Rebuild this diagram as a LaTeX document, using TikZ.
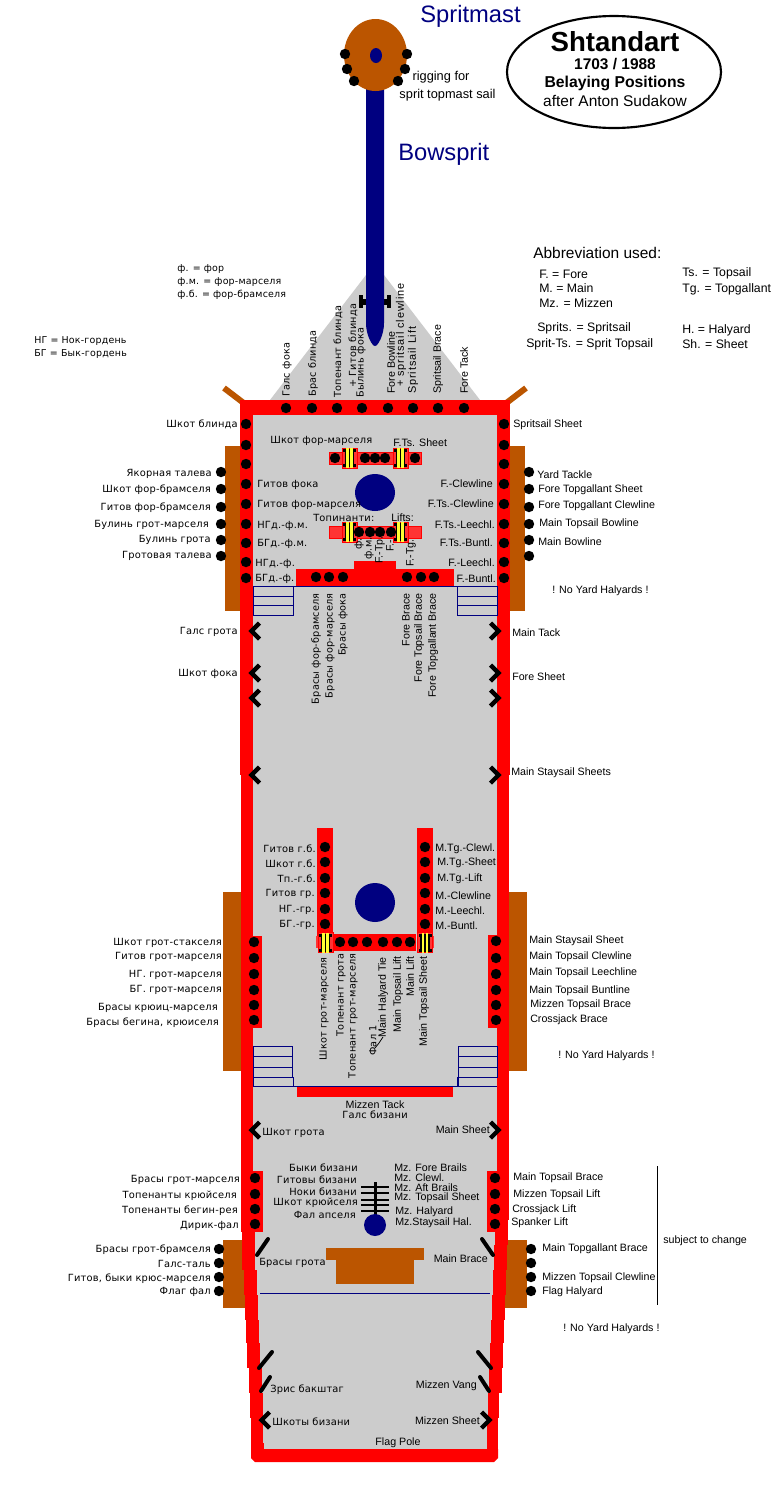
\documentclass[tikz,border=0pt]{standalone}
\usepackage{fontspec}
\setmainfont{Liberation Sans}
\newfontfamily\cyrf[LetterSpace=2]{DejaVu Sans}
\newfontfamily\latwide[LetterSpace=8]{Liberation Sans}
\definecolor{hullred}{HTML}{FF0000}
\definecolor{railred}{HTML}{FF3333}
\definecolor{deck}{HTML}{CCCCCC}
\definecolor{spar}{HTML}{000080}
\definecolor{timber}{HTML}{BB5500}
\definecolor{bittyel}{HTML}{FFFF33}
\tikzset{
  lat/.style={font=\fontsize{8}{9.6}\selectfont,inner sep=0pt},
  cyr/.style={font=\cyrf\fontsize{7.4}{9}\selectfont,inner sep=0pt},
  cyrsm/.style={font=\cyrf\fontsize{7.3}{9}\selectfont,inner sep=0pt},
  cyrab/.style={font=\cyrf\fontsize{7.1}{9}\selectfont,inner sep=0pt},
  abb/.style={font=\fontsize{9.2}{11}\selectfont,inner sep=0pt,anchor=west},
  spname/.style={font=\fontsize{17.8}{20}\selectfont,text=spar,inner sep=0pt},
  chev/.style={line width=3.2pt,miter limit=10},
  cleat/.style={line width=3pt,line cap=round},
  ladder/.style={draw=spar,line width=0.75pt},
  rail/.style={fill=railred,draw=hullred,line width=0.75pt},
  dot/.style={fill=black}
}
\newcommand{\bitts}[2]{%
  \fill[rail] (#1-7.5,#2-10) rectangle (#1+7.5,#2+10);
  \fill[black] (#1-6.5,#2-9) rectangle (#1+6.5,#2+9);
  \fill[railred] (#1-7,#2-6) rectangle (#1-4.8,#2+6);
  \fill[railred] (#1+4.8,#2-6) rectangle (#1+7,#2+6);
  \fill[bittyel] (#1-3.5,#2-10) rectangle (#1-1,#2+10);
  \fill[bittyel] (#1+0.8,#2-10) rectangle (#1+3.3,#2+10);
}
\newcommand{\chevL}[2]{\draw[chev] (#1+8,#2-8) -- (#1,#2) -- (#1+8,#2+8);}
\newcommand{\chevR}[2]{\draw[chev] (#1-8,#2-8) -- (#1,#2) -- (#1-8,#2+8);}
\begin{document}
\begin{tikzpicture}[x=0.75pt,y=-0.75pt]
\useasboundingbox (0,0) rectangle (782,1511);
\fill[white] (0,0) rectangle (782,1511);
% timber bands
\fill[timber] (225,446) rectangle (241,611);
\fill[timber] (509,446) rectangle (525,611);
\fill[timber] (223,892) rectangle (242,1071);
\fill[timber] (508,892) rectangle (527,1071);
\fill[timber] (223,1240) rectangle (246,1308);
\fill[timber] (504,1240) rectangle (527,1308);
\draw[timber,line width=4.5pt] (224,388) -- (245,404);
\draw[timber,line width=4.5pt] (526,388) -- (505,404);
% bow
\fill[deck] (270,400) -- (366,275) -- (384,275) -- (480,400) -- cycle;
% hull: deck, then the stepped planks
\fill[deck] (247,410) -- (503,410) -- (503,1220) -- (500,1320) -- (494,1449) -- (257,1449) -- (252,1320) -- (247,1220) -- cycle;
\fill[hullred] (240,400) rectangle (510,415);
\foreach \ya/\yb/\xa/\xb in {400/775/240/253,775/1220/241/253,1220/1270/242/255,1270/1295/244/257,1295/1320/245/258,1320/1343/246/259,1343/1368/247/260,1368/1393/249/262,1393/1418/250/263,1418/1443/251/263,1443/1458/251/264,
  400/775/497/510,775/1220/497/509,1220/1245/495/508,1245/1270/494/507,1270/1295/493/506,1295/1320/492/505,1320/1343/491/504,1343/1368/490/503,1368/1393/489/502,1393/1418/488/499,1418/1458/487/498}
  \fill[hullred] (\xa,\ya) rectangle (\xb,\yb);
\fill[hullred] (251,1449) -- (498,1449) -- (498,1458) -- (494,1462) -- (255,1462) -- (251,1458) -- cycle;
% bitts at bow and bowsprit
\fill[black] (359,295) rectangle (363,308);
\fill[black] (387,295) rectangle (391,308);
\fill[black] (359,299) rectangle (391,305);
\fill[spar] (366,85) -- (366,323) .. controls (366,335) and (372,346) .. (375,346) .. controls (378,346) and (384,335) .. (384,323) -- (384,85) -- cycle;
\fill[timber] (375.5,55) ellipse [x radius=31.5,y radius=36];
\fill[spar] (376,55.5) ellipse [x radius=6,y radius=7.5];
% fore rails
\fill[rail] (329,452) rectangle (421,464);
\fill[rail] (329,526) rectangle (421,538);
\bitts{349.5}{458}\bitts{400.5}{458}
\bitts{349.5}{532}\bitts{400.5}{532}
\fill[hullred] (296,569) rectangle (454,586);
\fill[hullred] (354,561) rectangle (396,569);
% ladders and deck lines
\foreach \xa/\xb in {253/293,457/497} {
  \draw[ladder] (\xa,586) rectangle (\xb,615);
  \draw[ladder] (\xa,596) -- (\xb,596);
  \draw[ladder] (\xa,605) -- (\xb,605);
}
\draw[ladder] (253,586.5) -- (497,586.5);
\foreach \xa/\xb/\xc in {253/292/293,458/497/457} {
  \draw[ladder] (\xa,1046) rectangle (\xb,1077);
  \draw[ladder] (\xa,1056) -- (\xb,1056);
  \draw[ladder] (\xa,1067) -- (\xb,1067);
  \draw[ladder] (\xa,1077) rectangle (\xc,1086);
}
\draw[ladder] (253,1086) -- (497,1086);
\draw[ladder] (260,1293) -- (490,1293);
% masts
\fill[spar] (375,492.5) ellipse [x radius=20,y radius=18.5];
\fill[spar] (375,902.5) ellipse [x radius=20,y radius=19.5];
% main rails
\fill[hullred] (317,828) rectangle (333,936);
\fill[hullred] (417,828) rectangle (433,936);
\fill[hullred] (333,934) rectangle (416,951);
\fill[railred] (316,936) rectangle (321,948);
\fill[railred] (429,936) rectangle (434,948);
\bitts{325.5}{942.5}\bitts{425}{942.5}
\fill[hullred] (241,936) rectangle (262,1028);
\fill[hullred] (488,935) rectangle (497,1028);
\fill[hullred] (297,1087) rectangle (453,1097);
\fill[hullred] (241,1171) rectangle (263,1232);
\fill[hullred] (487,1171) rectangle (500,1232);
% mizzen
\fill[timber] (326,1248) rectangle (424,1260);
\fill[timber] (336,1260) rectangle (414,1284);
\fill[black] (373.5,1182) rectangle (376.5,1216);
\foreach \y in {1187,1193,1200,1205,1211} \fill[black] (361,\y-1) rectangle (389,\y+1);
\fill[spar] (375,1225) ellipse [x radius=11,y radius=11];
% dots
\foreach \x/\y in {345/54,407/54,347/69,405/69,354/81,398/81,
  286/408,312/408,337/408,362/408,388/408,413/408,438/408,464/408,
  335/458,365/458,375/458,385/458,415/458,
  359/532,370/532,380/532,391/532,
  316/577,329/577,343/577,407/577,421/577,434/577,
  340/942,353/942,367/942,383/942,397/942,410/942,
  254/942,254/958,254/974,254/990,254/1005,254/1020,
  496/941,496/958,496/974,496/990,496/1005,496/1020,
  255/1178,255/1194,255/1209,255/1224,
  495/1178,495/1194,495/1209,495/1224,
  219/1249,219/1263,219/1277,219/1291,
  531/1249,531/1263,531/1277,531/1291}
  \fill[dot] (\x,\y) circle [radius=3.9pt];
\foreach \y in {424,445,464,484,504,524,543,562,578} {
  \fill[dot] (246,\y) circle [radius=3.9pt];
  \fill[dot] (504,\y) circle [radius=3.9pt];
}
\foreach \y in {472,489,507,524,540,556} {
  \fill[dot] (221,\y) circle [radius=3.9pt];
  \fill[dot] (529,\y) circle [radius=3.9pt];
}
\foreach \y in {847,862,878,893,909,924} {
  \fill[dot] (325,\y) circle [radius=3.9pt];
  \fill[dot] (425,\y) circle [radius=3.9pt];
}
% chevrons and cleats
\foreach \y in {631,673,698,775,1130} {\chevL{251.5}{\y}\chevR{498.5}{\y}}
\chevL{261.5}{1420}\chevR{489.5}{1420}
\draw[cleat] (257,1255) -- (268,1239);
\draw[cleat] (482,1239) -- (493,1255);
\draw[cleat] (259,1368) -- (272,1352);
\draw[cleat] (261,1391) -- (270,1377);
\draw[cleat] (478,1352) -- (491,1368);
\draw[cleat] (480,1377) -- (489,1391);
% thin lines
\draw[black,line width=0.75pt] (657,1166) -- (657,1305);
\draw[black,line width=0.6pt] (383,1037) -- (379,1043) -- (375,1048);
% title
\draw[line width=1.6pt] (614,72) ellipse [x radius=107,y radius=56];
\node[inner sep=0pt,font=\bfseries\fontsize{20.7}{22}\selectfont] (t1) at (615,42) {Shtandart};
\node[inner sep=0pt,font=\bfseries\fontsize{11.6}{13}\selectfont] (t2) at (615,64) {1703 / 1988};
\node[inner sep=0pt,font=\bfseries\fontsize{11.8}{13}\selectfont] (t3) at (615,83) {Belaying Positions};
\node[inner sep=0pt,font=\fontsize{11.6}{13}\selectfont] (t4) at (615,101) {after Anton Sudakow};
\node[spname] (spritmast) at (470.5,16) {Spritmast};
\node[spname,anchor=west] (bowsprit) at (398,154) {Bowsprit};
\node[inner sep=0pt,font=\fontsize{9.6}{11}\selectfont] (rig1) at (441,77) {rigging for};
\node[inner sep=0pt,font=\fontsize{9.6}{11}\selectfont] (rig2) at (447.5,95) {sprit topmast sail};
% abbreviations
\node[inner sep=0pt,anchor=west,font=\fontsize{11.6}{13}\selectfont] (abbh) at (533,253) {Abbreviation used:};
\foreach \x/\y/\t [count=\i] in {539/274/F. = Fore,539/288/M. = Main,539/303/Mz. = Mizzen,682/273/Ts. = Topsail,682/289/Tg. = Topgallant,537/328/Sprits. = Spritsail,526/344/Sprit-Ts. = Sprit Topsail,682/330/H. = Halyard,682/344/Sh. = Sheet}
  \node[abb] (abb\i) at (\x,\y) {\t};
\foreach \x/\y/\t [count=\i] in {177/269/ф. = фор,177/282/ф.м. = фор-марселя,177/295/ф.б. = фор-брамселя,34/341/НГ = Нок-гордень,34/354/БГ = Бык-гордень}
  \node[cyrab,anchor=west] (cabb\i) at (\x,\y) {\t};
% bow rotated labels (reading upward from the base)
\foreach \x/\y/\t [count=\i] in {287/397/Галс фока,313/397/Брас блинда,338/398/Топенант блинда,353/388/+ Гитов блинда,361/398/Былинь фока}
  \node[cyrsm,rotate=90,anchor=west] (bc\i) at (\x,\y) {\t};
\foreach \x/\y/\t [count=\i] in {391/394/Fore Bowline,438/394/Spritsail Brace,464/394/Fore Tack}
  \node[lat,rotate=90,anchor=west] (bl\i) at (\x,\y) {\t};
\node[inner sep=0pt,font=\latwide\fontsize{8.2}{10}\selectfont,rotate=90,anchor=west] (bl4) at (401,387) {+ spritsail clewline};
\node[inner sep=0pt,font=\latwide\fontsize{8.2}{10}\selectfont,rotate=90,anchor=west] (bl5) at (413,394) {Spritsail Lift};
% cyrillic, right aligned
\foreach \x/\y/\t [count=\i] in {238/424/Шкот блинда,212/473/Якорная талева,211/489/Шкот фор-брамселя,211/507/Гитов фор-брамселя,209/524/Булинь грот-марселя,211/539/Булинь грота,212/555/Гротовая талева,
  238/631/Галс грота,238/673/Шкот фока,
  316/848/Гитов г.б.,316/863/Шкот г.б.,316/878/Тп.-г.б.,315/893/Гитов гр.,315/909/НГ.-гр.,315/924/БГ.-гр.,
  222/942/Шкот грот-стакселя,222/956/Гитов грот-марселя,222/974/НГ. грот-марселя,222/989/БГ. грот-марселя,218/1007/Брасы крюиц-марселя,219/1022/{Брасы бегина, крюиселя},
  240/1179/Брасы грот-марселя,237/1195/Топенанты крюйселя,238/1210/Топенанты бегин-рея,239/1225/Дирик-фал,
  211/1249/Брасы грот-брамселя,211/1263/Галс-таль,211/1278/{Гитов, быки крюс-марселя},211/1291/Флаг фал,
  358/1167/Быки бизани,357/1179/Гитовы бизани,357/1191/Ноки бизани,358/1202/Шкот крюйселя,356/1214/Фал апселя}
  \node[cyr,anchor=east,yshift=-0.6pt] (cr\i) at (\x,\y) {\t};
% cyrillic, left aligned
\foreach \x/\y/\t [count=\i] in {270/440/Шкот фор-марселя,257/484/Гитов фока,257/504/Гитов фор-марселя,313/517/Топинанти:,257/525/НГд.-ф.м.,257/543/БГд.-ф.м.,255/563/НГд.-ф.,255/578/БГд.-ф.,262/1132/Шкот грота,259/1262/Брасы грота,270/1389/Зрис бакштаг,272/1421/Шкоты бизани}
  \node[cyr,anchor=west,yshift=-0.6pt] (cl\i) at (\x,\y) {\t};
% latin, right aligned
\foreach \x/\y/\t [count=\i] in {493/482/F.-Clewline,494/502/F.Ts.-Clewline,495/523/F.Ts.-Leechl.,493/541/F.Ts.-Buntl.,495/561/F.-Leechl.,496/577/F.-Buntl.,490/1128/Main Sheet,488/1257/Main Brace,477/1385/Mizzen Vang,480/1419/Mizzen Sheet}
  \node[lat,anchor=east,yshift=-0.9pt] (lr\i) at (\x,\y) {\t};
% latin, left aligned
\foreach \x/\y/\t [count=\i] in {393/441/F.Ts. Sheet,391/516/Lifts:,513/424/Spritsail Sheet,537/473/Yard Tackle,538/489/Fore Topgallant Sheet,538/505/Fore Topgallant Clewline,539/523/Main Topsail Bowline,538/540/Main Bowline,552/590/! No Yard Halyards !,512/631/Main Tack,512/675/Fore Sheet,511/772/Main Staysail Sheets,
  435/848/M.Tg.-Clewl.,437/862/M.Tg.-Sheet,437/878/M.Tg.-Lift,435/894/M.-Clewline,435/909/M.-Leechl.,435/924/M.-Buntl.,
  529/940/Main Staysail Sheet,529/956/Main Topsail Clewline,529/972/Main Topsail Leechline,529/990/Main Topsail Buntline,530/1004/Mizzen Topsail Brace,530/1019/Crossjack Brace,558/1055/! No Yard Halyards !,
  394/1166/Mz. Fore Brails,394/1176/Mz. Clewl.,394/1186/Mz. Aft Brails,394/1197/Mz. Topsail Sheet,395/1211/Mz. Halyard,395/1222/Mz.Staysail Hal.,
  513/1177/Main Topsail Brace,513/1194/Mizzen Topsail Lift,512/1209/Crossjack Lift,511/1222/Spanker Lift,542/1248/Main Topgallant Brace,542/1277/Mizzen Topsail Clewline,542/1291/Flag Halyard,563/1328/! No Yard Halyards !,663/1240/subject to change}
  \node[lat,anchor=west,yshift=-0.9pt] (ll\i) at (\x,\y) {\t};
% centred
\node[lat,yshift=-0.9pt] (c1) at (375,1103) {Mizzen Tack};
\node[cyr,yshift=-0.6pt] (c2) at (375,1114) {Галс бизани};
\node[lat,yshift=-0.9pt] (c3) at (398,1442) {Flag Pole};
% rotated labels reading upward, top aligned
\foreach \x/\y/\t [count=\i] in {316/593/Брасы фор-брамселя,330/593/Брасы фор-марселя,343/593/Брасы фока,324/957/Шкот грот-марселя,341/953/Топенант грота,353/953/Топенант грот-марселя,373/1025/Фал 1}
  \node[cyrsm,rotate=90,anchor=east] (rc\i) at (\x,\y) {\t};
\foreach \x/\y/\t [count=\i] in {406/593/Fore Brace,419/593/Fore Topsail Brace,433/593/Fore Topgallant Brace,383/957/Main Halyard Tie,398/956/Main Topsail Lift,410/956/Main Lift,424/956/Main Topsail Sheet}
  \node[lat,rotate=90,anchor=east] (rl\i) at (\x,\y) {\t};
% small labels below the fore lift rail
\foreach \x/\y/\t [count=\i] in {359/550/ф.,369/560/ф.м.}
  \node[cyrsm,rotate=90,anchor=west] (sc\i) at (\x,\y) {\t};
\foreach \x/\y/\t [count=\i] in {380/564/F.-Tp.,390/552/F.-,411/567/F.-Tg.}
  \node[lat,rotate=90,anchor=west] (sl\i) at (\x,\y) {\t};
\end{tikzpicture}
\end{document}
